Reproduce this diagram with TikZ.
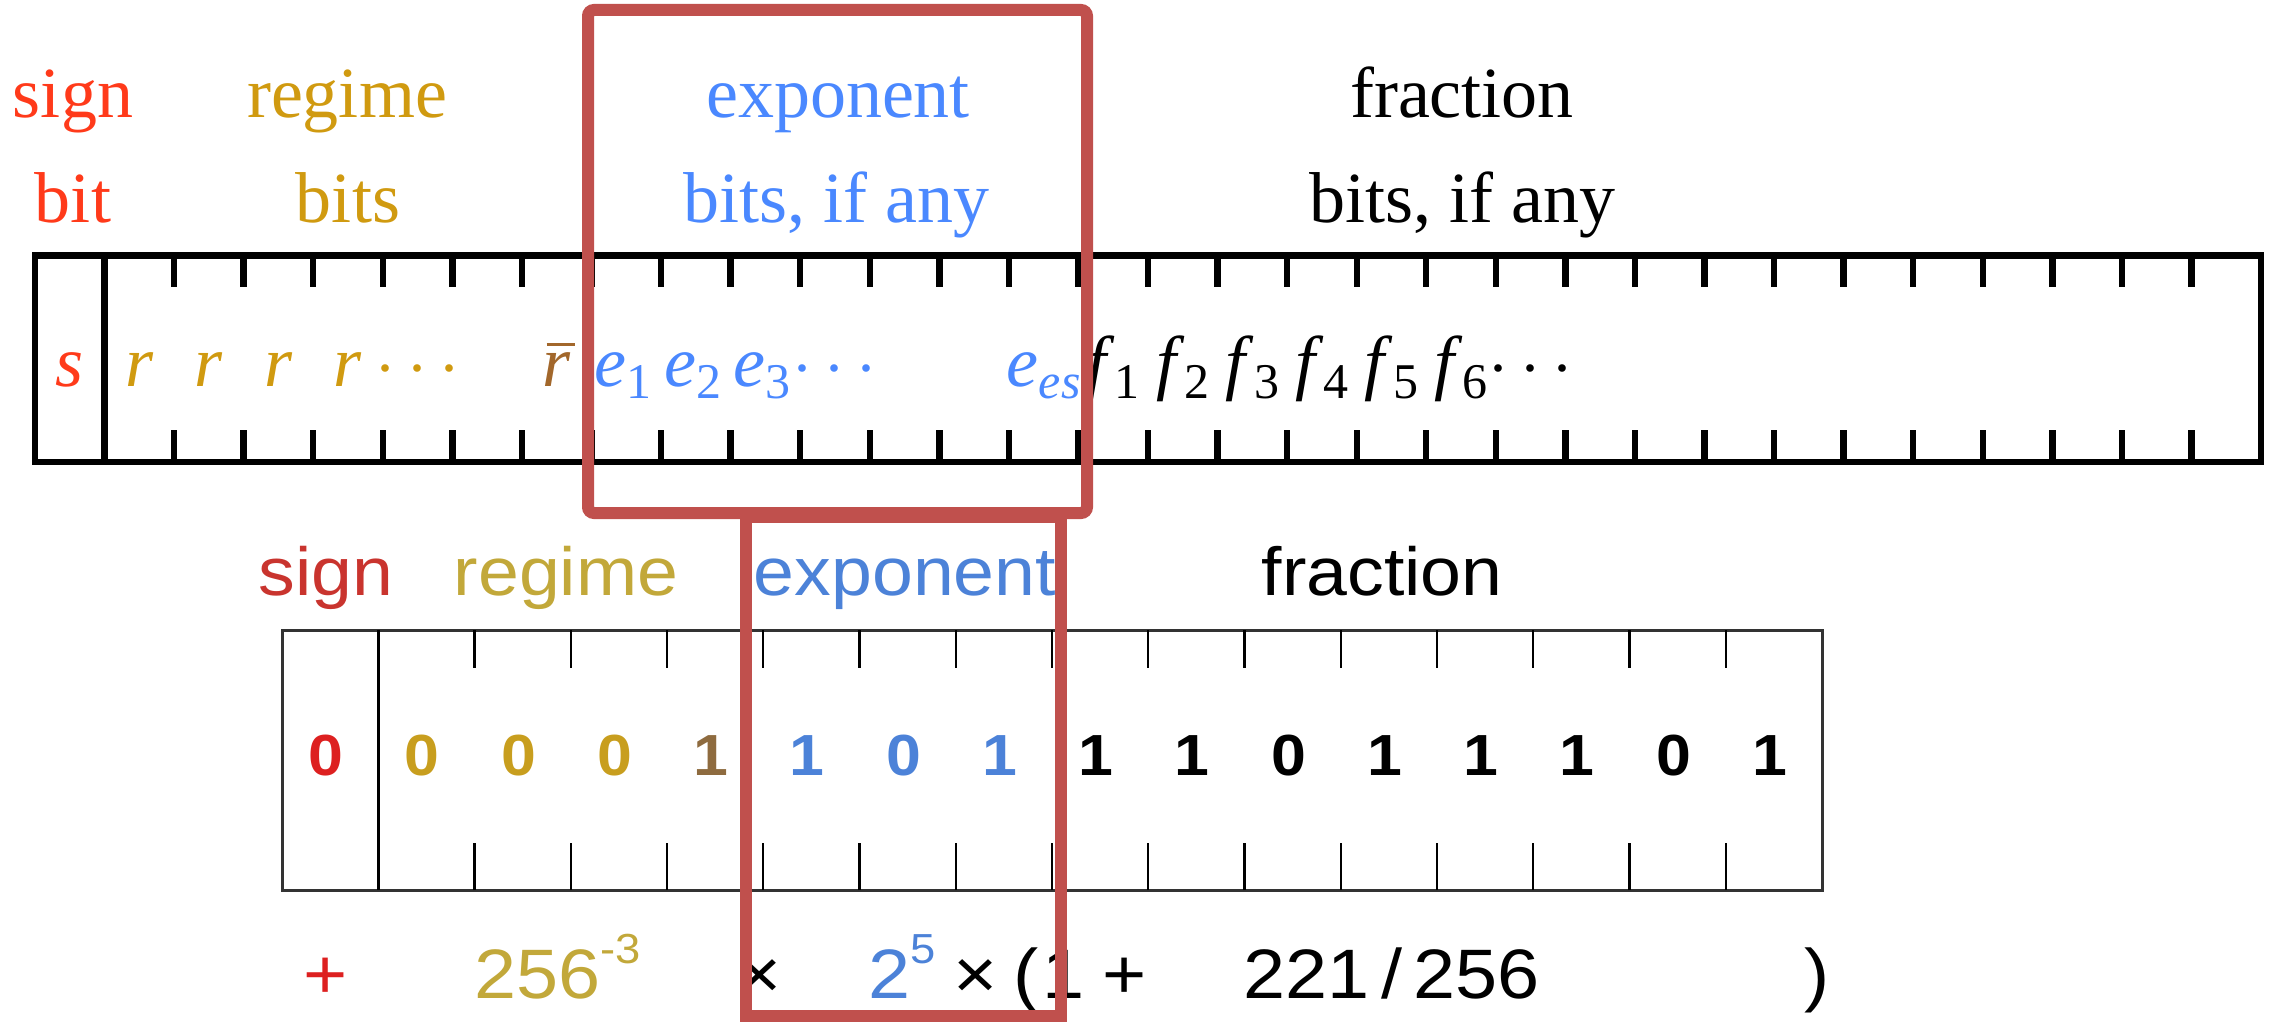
\RequirePackage{fix-cm}
\documentclass[tikz,border=0pt]{standalone}
\usepackage{fontspec}
\setmainfont{Liberation Serif}
\newfontfamily\arialw[FakeStretch=1.08]{Liberation Sans}
\definecolor{tsign}{HTML}{FF3A1A}
\definecolor{treg}{HTML}{D09A10}
\definecolor{texp}{HTML}{4A88FF}
\definecolor{rbarc}{HTML}{A2672B}
\definecolor{bsign}{HTML}{C9342E}
\definecolor{breg}{HTML}{C2A83A}
\definecolor{bregd}{HTML}{C89E1E}
\definecolor{bone}{HTML}{8E6B3F}
\definecolor{bexp}{HTML}{4C82D8}
\definecolor{bdig0}{HTML}{DD2020}
\definecolor{redbox}{HTML}{C0504D}
\newcommand\topf{\fontsize{36}{40}\selectfont}
\newcommand\botf{\arialw\fontsize{34}{38}\selectfont}
\newcommand\digf{\arialw\bfseries\fontsize{29}{32}\selectfont}
\newcommand\eqf{\arialw\fontsize{35}{38}\selectfont}
\newcommand\sbs[1]{\raisebox{-6pt}{\fontsize{25}{25}\selectfont #1}}
\newcommand\sps[1]{\raisebox{17.5pt}{\fontsize{21}{21}\selectfont #1}}
\newcommand\rbar{\makebox[0pt][l]{\hspace{2pt}\rule[20pt]{14pt}{1.5pt}}\textit{r}}
\begin{document}
\begin{tikzpicture}[x=0.5pt,y=-0.5pt,
  topbar/.style={line width=3.2pt,black},
  botbar/.style={line width=1.5pt,black!80},
  bottick/.style={line width=1.2pt,black},
  toplab/.style={anchor=base,inner sep=0pt,font=\topf},
  sym/.style={anchor=base,inner sep=0pt,font=\topf},
  botlab/.style={anchor=base,inner sep=0pt,font=\botf},
  dig/.style={anchor=base,inner sep=0pt,font=\digf},
  eq/.style={anchor=base,inner sep=0pt,font=\eqf},
  rbox/.style={draw=redbox,line width=6pt}]
\useasboundingbox (0,0) rectangle (2270,1022);
% ---------- top bar ----------
\draw[topbar] (35,255.5) rectangle (2261,462);
\draw[topbar] (104.56,255.5) -- (104.56,462);
\foreach \i in {2,...,31}{
  \draw[topbar] ({35+69.5625*\i},255.5) -- ({35+69.5625*\i},287);
  \draw[topbar] ({35+69.5625*\i},462) -- ({35+69.5625*\i},430);
}
% top labels
\node[toplab,text=tsign] (ts1) at (73,118) {sign};
\node[toplab,text=tsign] (ts2) at (73,222) {bit};
\node[toplab,text=treg] (tr1) at (347,118) {regime};
\node[toplab,text=treg] (tr2) at (348,222) {bits};
\node[toplab,text=texp] (te1) at (838,118) {exponent};
\node[toplab,text=texp] (te2) at (836,222) {bits, if any};
\node[toplab] (tf1) at (1462,118) {fraction};
\node[toplab] (tf2) at (1462,222) {bits, if any};
% symbols in top bar
\node[sym,text=tsign] (s0) at ({35+69.5625*0.5},386) {\textit{s}};
\foreach \k in {1,2,3,4}{
  \node[sym,text=treg] (r\k) at ({35+69.5625*(\k+0.5)},386) {\textit{r}};
}
\node[sym,text=treg] (rd) at ({35+69.5625*5.5},386) {$\cdots$};
\node[sym,text=rbarc] (rb) at ({35+69.5625*7.5},386) {\rbar};
\node[sym,text=texp] (e1) at ({35+69.5625*8.5-3},386) {\textit{e}\sbs{1}};
\node[sym,text=texp] (e2) at ({35+69.5625*9.5-3},386) {\textit{e}\sbs{2}};
\node[sym,text=texp] (e3) at ({35+69.5625*10.5-3},386) {\textit{e}\sbs{3}};
\node[sym,text=texp] (ed) at ({35+69.5625*11.5},386) {$\cdots$};
\node[sym,text=texp] (ees) at ({35+69.5625*14.5},386) {\textit{e}\sbs{\textit{es}}};
\foreach \k in {1,...,6}{
  \node[sym] (f\k) at ({35+69.5625*(14.5+\k)},386) {\textit{f}\sbs{\k}};
}
\node[sym] (fd) at ({35+69.5625*21.5},386) {$\cdots$};
% ---------- bottom bar ----------
\node[botlab,text=bsign] (bs) at (326,595) {sign};
\node[botlab,text=breg] (br) at (566,595) {regime};
\node[botlab,text=bexp] (be) at (905,595) {exponent};
\node[botlab] (bf) at (1382,595) {fraction};
\draw[botbar] (282,630) rectangle (1822,890);
\draw[botbar,black] (378.25,630) -- (378.25,890);
\foreach \i in {2,...,15}{
  \draw[bottick] ({282+96.25*\i},630) -- ({282+96.25*\i},668);
  \draw[bottick] ({282+96.25*\i},890) -- ({282+96.25*\i},843);
}
\node[dig,text=bdig0] (d0) at ({282+96.25*0.5-4},775) {0};
\node[dig,text=bregd] (d1) at ({282+96.25*1.5-4},775) {0};
\node[dig,text=bregd] (d2) at ({282+96.25*2.5-4},775) {0};
\node[dig,text=bregd] (d3) at ({282+96.25*3.5-4},775) {0};
\node[dig,text=bone] (d4) at ({282+96.25*4.5-4},775) {1};
\node[dig,text=bexp] (d5) at ({282+96.25*5.5-4},775) {1};
\node[dig,text=bexp] (d6) at ({282+96.25*6.5-4},775) {0};
\node[dig,text=bexp] (d7) at ({282+96.25*7.5-4},775) {1};
\foreach \k/\b in {8/1,9/1,10/0,11/1,12/1,13/1,14/0,15/1}{
  \node[dig] (d\k) at ({282+96.25*(\k+0.5)-4},775) {\b};
}
% formula
\node[eq,text=bdig0] (q1) at (326,998) {+};
\node[eq,text=breg,anchor=base west] (q2) at (474,998) {256\sps{-3}};
\node[eq] (q3) at (760,998) {×};
\node[eq,text=bexp,anchor=base west] (q4) at (868,998) {2\sps{5}};
\node[eq] (q5) at (976,998) {×};
\node[eq] (q6) at (1026,998) {(};
\node[eq] (q7) at (1064,998) {1};
\node[eq] (q8) at (1125,998) {+};
\node[eq,anchor=base west] (q9) at (1243,998) {221\,/\,256};
\node[eq] (q10) at (1817,998) {)};
% ---------- red boxes ----------
\draw[rbox,rounded corners=3pt] (588,10) rectangle (1087,513);
\draw[rbox] (746,517) rectangle (1061,1016);
\end{tikzpicture}
\end{document}
